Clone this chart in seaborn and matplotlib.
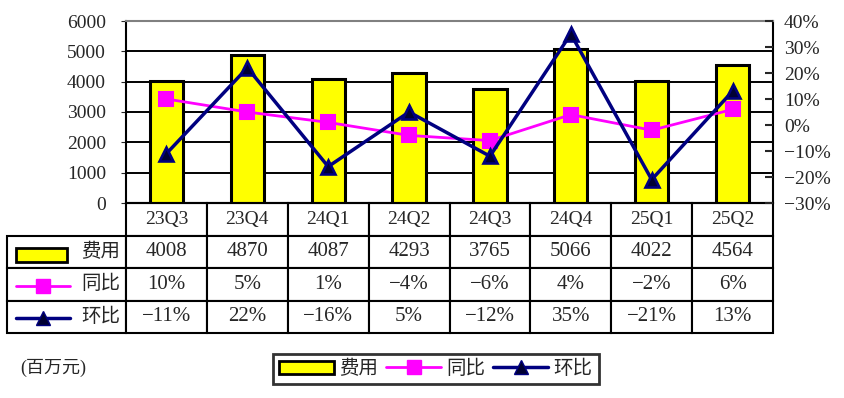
import matplotlib
matplotlib.use("Agg")
import matplotlib.pyplot as plt
import seaborn as sns
from matplotlib.patches import Rectangle, Patch
from matplotlib.lines import Line2D
from matplotlib.ticker import FuncFormatter, MultipleLocator

# Data
quarters = ["23Q3", "23Q4", "24Q1", "24Q2", "24Q3", "24Q4", "25Q1", "25Q2"]
costs = [4008, 4870, 4087, 4293, 3765, 5066, 4022, 4564]   # 费用 (百万元)
yoy = [10, 5, 1, -4, -6, 4, -2, 6]                          # 同比 %
qoq = [-11, 22, -16, 5, -12, 35, -21, 13]                   # 环比 %
row_names = ["费用", "同比", "环比"]

sns.set_style("white")
plt.rcParams["font.family"] = ["Liberation Serif", "Noto Sans CJK SC", "DejaVu Sans"]

W, H = 844, 398
fig = plt.figure(figsize=(W / 100, H / 100), dpi=100)

def fx(px):
    return px / W

def fy(py):
    return 1 - py / H

# plot area in pixels: x 126..773, y 21..203
ax = fig.add_axes([fx(126), fy(203), fx(773) - fx(126), fy(21) - fy(203)])

sns.barplot(x=quarters, y=costs, color="#FFFF00", saturation=1, edgecolor="black",
            linewidth=2.2, width=0.41, ax=ax, zorder=2)
ax.set_ylim(0, 6000)
ax.yaxis.set_major_locator(MultipleLocator(1000))
ax.grid(axis="y", color="black", linewidth=1.4, zorder=0)
ax.set_axisbelow(True)
ax.set_xlabel("")
ax.set_ylabel("")
ax.set_xticklabels([])
ax.tick_params(axis="x", bottom=False, labelbottom=False)
ax.tick_params(axis="y", left=False, labelsize=14, pad=11)
ax.spines["top"].set_color("#808080")
ax.spines["top"].set_linewidth(1.5)
for s in ["left", "bottom", "right"]:
    ax.spines[s].set_color("black")
    ax.spines[s].set_linewidth(1.5)

ax2 = ax.twinx()
sns.pointplot(x=quarters, y=yoy, ax=ax2, color="#FF00FF", marker="s", markersize=10,
              linewidth=2, markeredgecolor="#FF00FF")
sns.pointplot(x=quarters, y=qoq, ax=ax2, color="#000080", marker="^", markersize=10,
              linewidth=2.5, markerfacecolor="#000033", markeredgecolor="#000080")
ax2.set_ylim(-30, 40)
ax2.yaxis.set_major_locator(MultipleLocator(10))
ax2.yaxis.set_major_formatter(FuncFormatter(lambda v, p: f"{v:.0f}%".replace("-", "−")))
ax2.tick_params(axis="y", direction="in", length=6, width=1.5, labelsize=14, pad=8)
ax2.set_ylabel("")
ax2.set_xlim(ax.get_xlim())
for s in ax2.spines.values():
    s.set_visible(False)

# data table below the chart
def pct(v):
    return f"{v}%".replace("-", "−")

cell_text = [[row_names[0]] + [str(v) for v in costs],
             [row_names[1]] + [pct(v) for v in yoy],
             [row_names[2]] + [pct(v) for v in qoq]]
plot_w = 773 - 126
plot_h = 203 - 21
left_px = 7
label_w = 126 - left_px
col_w = plot_w / len(quarters)
widths = [label_w] + [col_w] * len(quarters)
tbl = ax.table(cellText=cell_text, colLabels=[""] + quarters, colWidths=widths,
               cellLoc="center",
               bbox=[(left_px - 126) / plot_w, -(333 - 203) / plot_h,
                     (773 - left_px) / plot_w, (333 - 203) / plot_h])
tbl.auto_set_font_size(False)
tbl.set_fontsize(14)
for (r, c), cell in tbl.get_celld().items():
    cell.set_linewidth(1.5)
    cell.set_edgecolor("black")
    if r > 0 and c > 0:
        cell.get_text().set_fontsize(15)
    if c == 0:
        cell.get_text().set_horizontalalignment("right")
        cell.PAD = 0.05
    if r == 0 and c == 0:
        cell.visible_edges = ""

# legend keys inside the row-label cells
fig.add_artist(Rectangle((fx(16), fy(262)), fx(67) - fx(16), fy(248) - fy(262),
                         facecolor="#FFFF00", edgecolor="black", linewidth=2))
fig.add_artist(Line2D([fx(16), fx(70)], [fy(286), fy(286)], color="#FF00FF", linewidth=2))
fig.add_artist(Line2D([fx(43)], [fy(286)], color="#FF00FF", marker="s", markersize=10,
                      linestyle="none"))
fig.add_artist(Line2D([fx(16), fx(70)], [fy(318), fy(318)], color="#000080", linewidth=2.5))
fig.add_artist(Line2D([fx(43)], [fy(318)], color="#000080", marker="^", markersize=10,
                      markerfacecolor="#000033", linestyle="none"))

fig.text(fx(20), fy(368), "(百万元)", fontsize=13, va="center", ha="left")

handles = [
    Patch(facecolor="#FFFF00", edgecolor="black", linewidth=2),
    Line2D([], [], color="#FF00FF", linewidth=2, marker="s", markersize=10),
    Line2D([], [], color="#000080", linewidth=2.5, marker="^", markersize=10,
           markerfacecolor="#000033"),
]
leg = fig.legend(handles, row_names, loc="center", bbox_to_anchor=(fx(436), fy(369)),
                 ncol=3, fontsize=14, frameon=True, fancybox=False, edgecolor="black",
                 handlelength=2.8, handletextpad=0.3, columnspacing=0.4,
                 borderpad=0.3, borderaxespad=0)
leg.get_frame().set_linewidth(2)

fig.savefig("out.png", dpi=100)
